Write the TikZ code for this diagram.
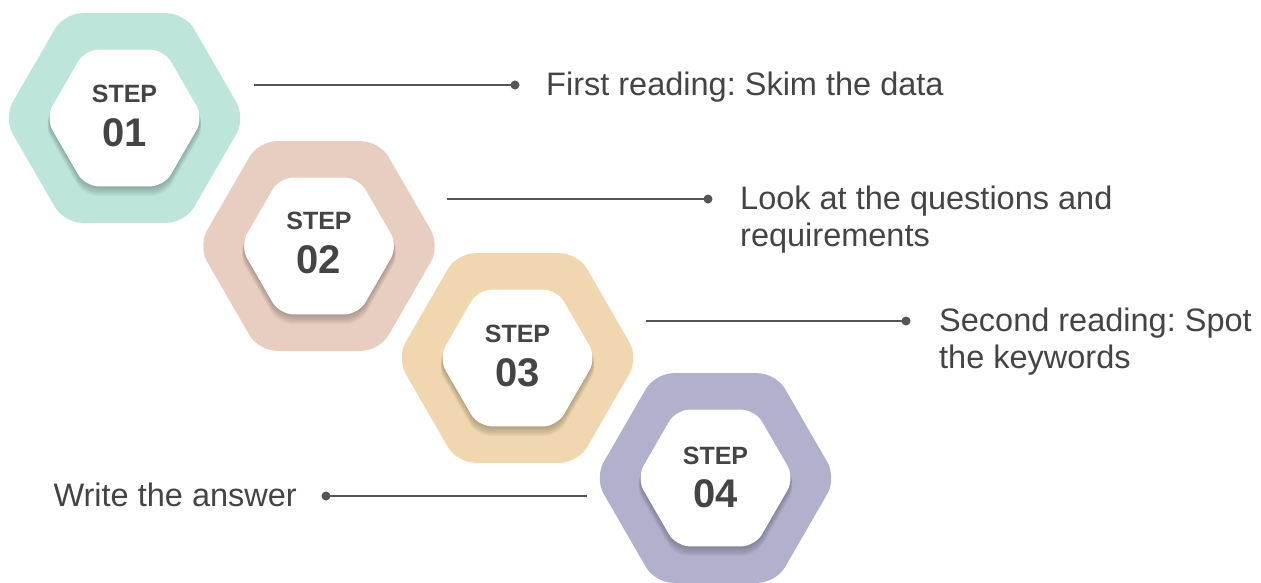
\documentclass[tikz,border=0pt]{standalone}
\usepackage{fontspec}
\setmainfont{Liberation Sans}
\frenchspacing
\definecolor{hexA}{RGB}{189,229,220}
\definecolor{hexB}{RGB}{232,205,193}
\definecolor{hexC}{RGB}{240,215,175}
\definecolor{hexD}{RGB}{177,177,206}
\definecolor{txt}{RGB}{68,68,68}
\definecolor{conncol}{RGB}{85,85,85}
% #1,#2 centre, #3 radius, #4 style
\newcommand{\myhex}[4]{%
  \path[#4] ({#1},{(#2)+0.8660254*(#3)}) -- ++({(#3)/2},0) -- ++({(#3)/2},{-0.8660254*(#3)})
    -- ++({-(#3)/2},{-0.8660254*(#3)}) -- ++({-(#3)},0) -- ++({-(#3)/2},{0.8660254*(#3)})
    -- ++({(#3)/2},{0.8660254*(#3)}) -- cycle;}
\newcommand{\stephex}[3]{% x, y, colour
  \myhex{#1}{#2}{121}{fill=#3, rounded corners=18pt}
  \foreach \k in {1,...,10}{
    \myhex{#1}{#2+0.8*\k}{79+0.2*\k}{fill=#3!45!black, fill opacity=0.05, rounded corners=14pt}
  }
  \myhex{#1}{#2}{79}{fill=white, rounded corners=14pt}}
\tikzset{
  steplbl/.style={font=\bfseries\fontsize{25}{25}\selectfont, text=txt, inner sep=0pt},
  stepnum/.style={font=\bfseries\fontsize{40}{40}\selectfont, text=txt, inner sep=0pt},
  desc/.style={font=\fontsize{32.5}{37}\selectfont, text=txt, inner sep=0pt, align=left},
  conn/.style={draw=conncol, line width=1.8pt},
  dotmark/.style={fill=conncol}
}
\begin{document}
\begin{tikzpicture}[x=1pt,y=-1pt]
\useasboundingbox (0,0) rectangle (1261,582);
\stephex{124.5}{118}{hexA}
\stephex{319}{246}{hexB}
\stephex{517.5}{358}{hexC}
\stephex{715.5}{478}{hexD}
% step labels
\node[steplbl] (s1) at (124.5,94) {STEP};
\node[stepnum] (n1) at (124.5,133) {01};
\node[steplbl] (s2) at (319,221) {STEP};
\node[stepnum] (n2) at (319,260) {02};
\node[steplbl] (s3) at (517.5,334) {STEP};
\node[stepnum] (n3) at (517.5,373) {03};
\node[steplbl] (s4) at (715.5,456) {STEP};
\node[stepnum] (n4) at (715.5,494) {04};
% connectors
\coordinate (a1) at (254,85);  \coordinate (b1) at (515,85);
\coordinate (a2) at (447,199); \coordinate (b2) at (708,199);
\coordinate (a3) at (646,321); \coordinate (b3) at (906,321);
\coordinate (a4) at (587,496); \coordinate (b4) at (326,496);
\draw[conn] (a1) -- (b1); \fill[dotmark] (b1) circle (4.5);
\draw[conn] (a2) -- (b2); \fill[dotmark] (b2) circle (4.5);
\draw[conn] (a3) -- (b3); \fill[dotmark] (b3) circle (4.5);
\draw[conn] (a4) -- (b4); \fill[dotmark] (b4) circle (4.5);
% descriptions (base = baseline of last line)
\node[desc, anchor=base west] (t1) at (546,95.5) {First reading: Skim the data};
\node[desc, anchor=base west] (t2) at (740,246.5) {Look at the questions and\\requirements};
\node[desc, anchor=base west] (t3) at (939,368.5) {Second reading: Spot\\the keywords};
\node[desc, anchor=base east] (t4) at (297,506.5) {Write the answer};
\end{tikzpicture}
\end{document}
